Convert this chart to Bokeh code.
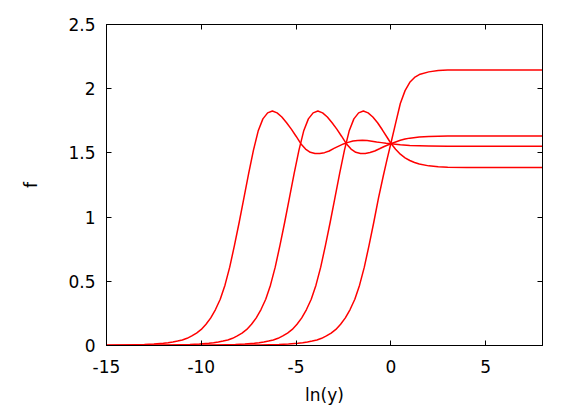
from bokeh.plotting import figure
from bokeh.models import Range1d, LinearAxis, FixedTicker
from bokeh.embed import file_html
from bokeh.resources import INLINE

x_ticks = [-15, -10, -5, 0, 5]
x_tick_labels = ["-15", "-10", "-5", "0", "5"]
y_ticks = [0, 0.5, 1, 1.5, 2, 2.5]
y_tick_labels = ["0", "0.5", "1", "1.5", "2", "2.5"]

curve_a_x = [-15, -14, -13, -12.5, -12, -11.75, -11.5, -11.25, -11, -10.75, -10.5, -10.25, -10,
             -9.75, -9.5, -9.25, -9, -8.75, -8.5, -8.25, -8,
             -7.75, -7.5, -7.25, -7, -6.75, -6.5, -6.25, -6, -5.75, -5.5, -5.25, -5,
             -4.75, -4.5, -4.25, -4, -3.75, -3.5, -3.25, -3, -2.75, -2.5, -2.25, -2,
             -1.75, -1.5, -1.25, -1, -0.75, -0.5, -0.25, 0, 0.5, 1, 1.5, 2, 3, 5, 8]
curve_a_y = [0.002, 0.004, 0.008, 0.012, 0.018, 0.022, 0.028, 0.035, 0.043, 0.056, 0.075, 0.097, 0.125,
             0.165, 0.215, 0.28, 0.36, 0.47, 0.61, 0.78, 0.96,
             1.15, 1.34, 1.52, 1.67, 1.765, 1.812, 1.826, 1.812, 1.78, 1.735, 1.685, 1.63,
             1.572, 1.53, 1.505, 1.495, 1.495, 1.502, 1.515, 1.535, 1.553, 1.570, 1.582, 1.592,
             1.597, 1.598, 1.596, 1.591, 1.585, 1.580, 1.575, 1.571, 1.563, 1.558, 1.555, 1.553, 1.552, 1.552, 1.552]

curve_b_x = [-15, -14, -12.6, -11.6, -10.6, -10.1, -9.6, -9.35, -9.1, -8.85, -8.6, -8.35, -8.1, -7.85, -7.6,
             -7.35, -7.1, -6.85, -6.6,
             -6.35, -6.1, -5.85, -5.6, -5.35, -5.1, -4.85, -4.6, -4.35, -4.1, -3.85, -3.6,
             -3.35, -3.1, -2.85, -2.6, -2.35, -2.1, -1.85, -1.6, -1.35, -1.1, -0.85, -0.6,
             -0.35, -0.1, 0, 0.25, 0.5, 0.75, 1, 1.5, 2, 3, 5, 8]
curve_b_y = [0.0005, 0.001, 0.002, 0.004, 0.008, 0.012, 0.018, 0.022, 0.028, 0.035, 0.043, 0.056, 0.075, 0.097, 0.125,
             0.165, 0.215, 0.28, 0.36,
             0.47, 0.61, 0.78, 0.96, 1.15, 1.34, 1.52, 1.67, 1.765, 1.812, 1.826, 1.812,
             1.78, 1.735, 1.685, 1.63, 1.572, 1.53, 1.505, 1.495, 1.495, 1.503, 1.515, 1.532,
             1.55, 1.565, 1.571, 1.585, 1.598, 1.608, 1.615, 1.623, 1.628, 1.631, 1.631, 1.631]

curve_c_x = [-15, -12, -10.2, -9.2, -8.2, -7.7, -7.2, -6.95, -6.7, -6.45, -6.2, -5.95, -5.7, -5.45, -5.2,
             -4.95, -4.7, -4.45, -4.2,
             -3.95, -3.7, -3.45, -3.2, -2.95, -2.7, -2.45, -2.2, -1.95, -1.7, -1.45, -1.2,
             -0.95, -0.7, -0.45, -0.2, 0, 0.25, 0.5, 0.75, 1, 1.25, 1.5, 2, 2.5, 3, 4, 8]
curve_c_y = [0.0002, 0.0008, 0.002, 0.004, 0.008, 0.012, 0.018, 0.022, 0.028, 0.035, 0.043, 0.056, 0.075, 0.097, 0.125,
             0.165, 0.215, 0.28, 0.36,
             0.47, 0.61, 0.78, 0.96, 1.15, 1.34, 1.52, 1.67, 1.765, 1.812, 1.826, 1.812,
             1.78, 1.735, 1.68, 1.622, 1.575, 1.528, 1.49, 1.462, 1.441, 1.425, 1.413, 1.399, 1.392, 1.389, 1.387, 1.386]

curve_d_x = [-15, -10, -7.9, -6.9, -5.9, -5.4, -4.9, -4.65, -4.4, -4.15, -3.9, -3.65, -3.4, -3.15, -2.9,
             -2.65, -2.4, -2.15, -1.9,
             -1.65, -1.4, -1.15, -0.9, -0.65, -0.4, -0.2, 0, 0.25, 0.5, 0.75, 1,
             1.25, 1.5, 2, 2.5, 3, 4, 8]
curve_d_y = [0.0, 0.0004, 0.002, 0.004, 0.008, 0.012, 0.018, 0.022, 0.028, 0.035, 0.043, 0.056, 0.075, 0.097, 0.125,
             0.165, 0.215, 0.28, 0.36,
             0.47, 0.61, 0.78, 0.96, 1.15, 1.32, 1.45, 1.573, 1.73, 1.885, 1.985, 2.05,
             2.088, 2.11, 2.131, 2.141, 2.145, 2.146, 2.146]

FONT = "DejaVu Sans"
FS = "17px"

p = figure(width=581, height=407, output_backend="svg", toolbar_location=None,
           x_range=Range1d(-15, 8), y_range=Range1d(0, 2.5),
           min_border_left=106, min_border_right=39, min_border_top=24, min_border_bottom=62,
           background_fill_color="white", border_fill_color="white")
p.grid.visible = False
p.outline_line_color = "black"
p.outline_line_width = 1
p.outline_line_alpha = 1

for xs, ys in [(curve_a_x, curve_a_y), (curve_b_x, curve_b_y),
               (curve_c_x, curve_c_y), (curve_d_x, curve_d_y)]:
    p.line(xs, ys, line_color="#ff0000", line_width=1.5, line_join="round")

def style_axis(ax, ticks, labels, show_labels=True):
    ax.ticker = FixedTicker(ticks=ticks)
    ax.minor_tick_line_color = None
    ax.major_tick_in = 5
    ax.major_tick_out = 0
    ax.major_tick_line_color = "black"
    ax.axis_line_color = "black"
    ax.major_label_text_font = FONT
    ax.major_label_text_color = "black"
    if show_labels:
        ax.major_label_overrides = {t: l for t, l in zip(ticks, labels)}
        ax.major_label_text_font_size = FS
        ax.major_label_standoff = 14 if ax is p.xaxis[0] else 11
    else:
        ax.major_label_overrides = {t: "" for t in ticks}
        ax.major_label_text_font_size = "1px"
        ax.major_label_standoff = 0

xa = p.xaxis[0]
style_axis(xa, x_ticks, x_tick_labels)
xa.axis_label = "ln(y)"
xa.axis_label_text_font = FONT
xa.axis_label_text_font_size = FS
xa.axis_label_text_font_style = "normal"
xa.axis_label_text_color = "black"
xa.axis_label_standoff = 9

ya = p.yaxis[0]
style_axis(ya, y_ticks, y_tick_labels)
ya.axis_label = "f"
ya.axis_label_text_font = FONT
ya.axis_label_text_font_size = FS
ya.axis_label_text_font_style = "normal"
ya.axis_label_text_color = "black"
ya.axis_label_standoff = 24

top = LinearAxis()
style_axis(top, x_ticks, x_tick_labels, show_labels=False)
p.add_layout(top, "above")
right = LinearAxis()
style_axis(right, y_ticks, y_tick_labels, show_labels=False)
p.add_layout(right, "right")

open("out.html", "w").write(file_html(p, INLINE))
